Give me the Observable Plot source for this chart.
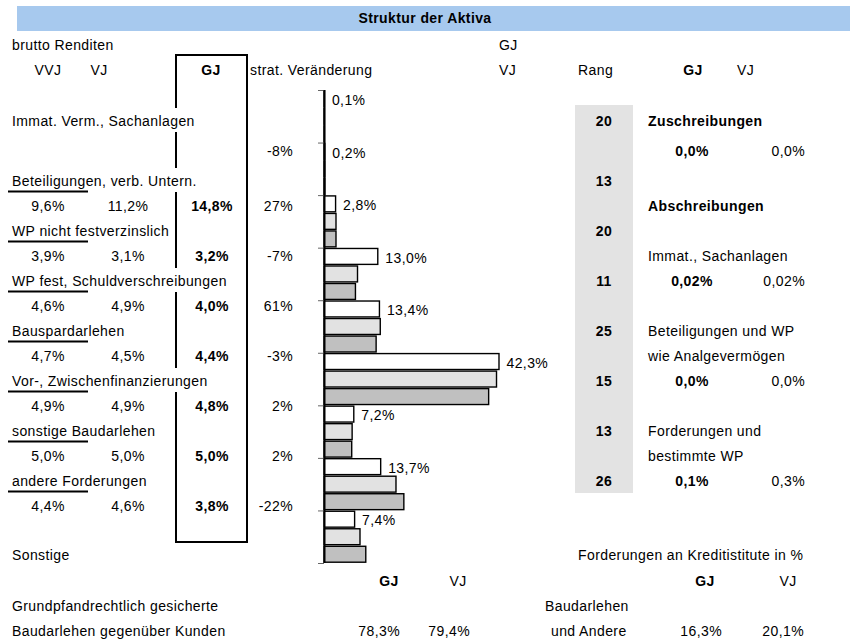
<!DOCTYPE html>
<html><head><meta charset="utf-8">
<script src="https://cdn.jsdelivr.net/npm/d3@7"></script>
<script src="https://cdn.jsdelivr.net/npm/@observablehq/plot@0.6"></script>
<style>
body{margin:0;background:#fff;}
#page{position:relative;width:850px;height:642px;font-family:"Liberation Sans",Arial,sans-serif;font-size:14px;color:#000;overflow:hidden}
.t{position:absolute;white-space:nowrap;line-height:16px;height:16px;letter-spacing:0.4px}
.b{font-weight:bold}
#bars{position:absolute;left:300px;top:80px}
#bg{position:absolute;left:0;top:0}
</style></head><body><div id="page"></div><script>
// ---------- data ----------
const title = "Struktur der Aktiva";
const categories = ["Immat. Verm., Sachanlagen","Beteiligungen, verb. Untern.","WP nicht festverzinslich","WP fest, Schuldverschreibungen","Bauspardarlehen","Vor-, Zwischenfinanzierungen","sonstige Baudarlehen","andere Forderungen","Sonstige"];
const seriesNames = ["GJ","VJ","VVJ"];
const shareGJ  = [0.1, 0.2, 2.8, 13.0, 13.4, 42.3, 7.2, 13.7, 7.4];
const shareVJ  = [0.1, 0.2, 2.9,  8.1, 13.6, 41.7, 6.8, 17.4, 8.7];
const shareVVJ = [0.1, 0.2, 2.9,  7.6, 12.6, 39.8, 6.7, 19.3, 10.1];
const barColors = ["#ffffff","#e2e2e2","#c0c0c0"];
const renditeVVJ = ["9,6%","3,9%","4,6%","4,7%","4,9%","5,0%","4,4%"];
const renditeVJ  = ["11,2%","3,1%","4,9%","4,5%","4,9%","5,0%","4,6%"];
const renditeGJ  = ["14,8%","3,2%","4,0%","4,4%","4,8%","5,0%","3,8%"];
const stratChange = ["-8%","27%","-7%","61%","-3%","2%","2%","-22%"];
const rang = ["20","13","20","11","25","15","13","26"];
const writeUpLabel = "Zuschreibungen", writeUpGJ = "0,0%", writeUpVJ = "0,0%";
const writeDownLabel = "Abschreibungen";
const writeDownCats = [["Immat., Sachanlagen"],["Beteiligungen und WP","wie Analgevermögen"],["Forderungen und","bestimmte WP"]];
const writeDownGJ = ["0,02%","0,0%","0,1%"];
const writeDownVJ = ["0,02%","0,0%","0,3%"];
const bankTitle = "Forderungen an Kreditistitute in %";
const mortgageLabel = ["Grundpfandrechtlich gesicherte","Baudarlehen gegenüber Kunden"];
const mortgageGJ = "78,3%", mortgageVJ = "79,4%";
const bankLabel = ["Baudarlehen","und Andere"];
const bankGJ = "16,3%", bankVJ = "20,1%";

// ---------- layout ----------
const page = document.getElementById("page");
function t(txt, x, y, anchor="start", bold=false, parent=page){
  const d = document.createElement("div");
  d.className = "t" + (bold ? " b" : "");
  d.textContent = txt;
  d.style.left = x + "px";
  d.style.top = (y - 8) + "px";
  if (anchor === "middle") d.style.transform = "translateX(-50%)";
  if (anchor === "end") d.style.transform = "translateX(-100%)";
  parent.appendChild(d);
  return d;
}

// background svg: title bar, grey rank box, rules
const bg = d3.select(page).append("svg").attr("id","bg").attr("width",850).attr("height",642);
bg.append("rect").attr("x",17).attr("y",6).attr("width",833).attr("height",25).attr("fill","#a7c9ee");
bg.append("rect").attr("x",575).attr("y",105).attr("width",58).attr("height",388).attr("fill","#e3e3e3");

const labelY = [121, 181, 231, 281, 331, 381, 431, 481, 555];
const valueY = labelY.slice(1,8).map(y => y + 25);
// underlines
labelY.slice(1,8).forEach(y => bg.append("line").attr("x1",8).attr("x2",88).attr("y1",y+10.5).attr("y2",y+10.5).attr("stroke","#000").attr("stroke-width",2));
// GJ box: left edge broken where long labels overflow
const boxL = 176, boxR = 247, boxT = 55, boxB = 542;
const overflowRows = categories.map((c,i)=>[c,i]).filter(([c,i]) => i < 8 && c.length > 24).map(([c,i]) => labelY[i]);
let yStart = boxT;
overflowRows.forEach(y => {
  bg.append("line").attr("x1",boxL).attr("x2",boxL).attr("y1",yStart).attr("y2",y-13).attr("stroke","#000").attr("stroke-width",2);
  yStart = y + 11;
});
bg.append("line").attr("x1",boxL).attr("x2",boxL).attr("y1",yStart).attr("y2",boxB).attr("stroke","#000").attr("stroke-width",2);
bg.append("line").attr("x1",boxR).attr("x2",boxR).attr("y1",boxT).attr("y2",boxB).attr("stroke","#000").attr("stroke-width",2);
bg.append("line").attr("x1",boxL-1).attr("x2",boxR+1).attr("y1",boxT).attr("y2",boxT).attr("stroke","#000").attr("stroke-width",2);
bg.append("line").attr("x1",boxL-1).attr("x2",boxR+1).attr("y1",boxB).attr("y2",boxB).attr("stroke","#000").attr("stroke-width",2);

// texts
t(title, 425, 18, "middle", true);
t("brutto Renditen", 12, 45);
t("GJ", 499, 45);
t("VVJ", 48, 70, "middle"); t("VJ", 99, 70, "middle"); t("GJ", 211, 70, "middle", true);
t("strat. Veränderung", 250, 70);
t("VJ", 499, 70); t("Rang", 578, 70); t("GJ", 693, 70, "middle", true); t("VJ", 737, 70);

categories.forEach((c,i) => t(c, 12, labelY[i]));
valueY.forEach((y,i) => {
  t(renditeVVJ[i], 48, y, "middle");
  t(renditeVJ[i], 128, y, "middle");
  t(renditeGJ[i], 212, y, "middle", true);
});
// strategic change column
const stratY = [151, ...valueY];
stratChange.forEach((s,i) => t(s, 293, stratY[i], "end"));

// rank column
rang.forEach((r,i) => t(r, 604, labelY[i], "middle", true));
// write-ups / write-downs
t(writeUpLabel, 648, 121, "start", true);
t(writeUpGJ, 692, 151, "middle", true); t(writeUpVJ, 805, 151, "end");
t(writeDownLabel, 648, 206, "start", true);
const wdTop = [256, 331, 431];
writeDownCats.forEach((lines,k) => {
  lines.forEach((ln,j) => t(ln, 648, wdTop[k] + 25*j));
  const vy = wdTop[k] + 25*lines.length;
  t(writeDownGJ[k], 692, vy, "middle", true);
  t(writeDownVJ[k], 805, vy, "end");
});

// bottom
t(bankTitle, 578, 555);
t("GJ", 389, 581, "middle", true); t("VJ", 458, 581, "middle");
t("GJ", 705, 581, "middle", true); t("VJ", 788, 581, "middle");
t(mortgageLabel[0], 12, 606); t(mortgageLabel[1], 12, 631);
t(mortgageGJ, 400, 631, "end"); t(mortgageVJ, 470, 631, "end");
t(bankLabel[0], 545, 606); t(bankLabel[1], 551, 631);
t(bankGJ, 722, 631, "end"); t(bankVJ, 804, 631, "end");

// ---------- bar chart ----------
const shares = [shareGJ, shareVJ, shareVVJ];
const rows = [];
categories.forEach((c,i) => seriesNames.forEach((s,j) => rows.push({cat:c, series:s, value:shares[j][i], y1:i*3+j, y2:i*3+j+1})));
const fmt = v => d3.format(".1f")(v).replace(".", ",") + "%";
const nSlots = categories.length * seriesNames.length;

const chart = Plot.plot({
  width: 250, height: 500,
  marginLeft: 24, marginRight: 19.15, marginTop: 10, marginBottom: 17,
  style: {fontFamily: '"Liberation Sans", Arial, sans-serif', fontSize: "14px", letterSpacing: "0.4px", background: "transparent", overflow: "visible"},
  x: {domain: [0, 50], axis: null},
  y: {domain: [0, nSlots], reverse: true},
  color: {domain: seriesNames, range: barColors},
  marks: [
    Plot.rect(rows, {x1: () => 0, x2: "value", y1: "y1", y2: "y2", fill: "series", stroke: "#000", strokeWidth: 1.4, insetTop: 0.8, insetBottom: 0.8}),
    Plot.axisY(d3.range(0, nSlots + 1, seriesNames.length), {anchor: "left", tickSize: 6, tickFormat: () => "", stroke: "#666", label: null}),
    Plot.ruleX([0], {stroke: "#000", strokeWidth: 2}),
    Plot.text(rows.filter(d => d.series === "GJ"), {x: "value", y: d => d.y1 + 0.57, text: d => fmt(d.value), dx: 7, textAnchor: "start", fill: "#000", fontSize: 14})
  ]
});
chart.id = "bars";
page.appendChild(chart);
</script></body></html>
